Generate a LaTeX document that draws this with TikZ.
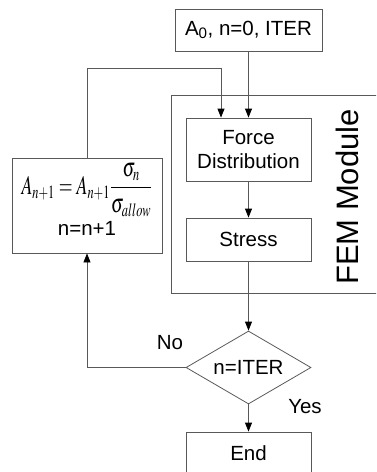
\documentclass[tikz,border=0pt]{standalone}
\usepackage{mathptmx}
\usepackage{graphicx}
\usepackage{fontspec}
\setmainfont{Liberation Sans}
\usepackage{tikz}
\usetikzlibrary{arrows.meta,shapes.geometric,positioning}
\definecolor{linegray}{gray}{0.35}
\tikzstyle{blk} = [rectangle, draw=linegray, line width=0.8pt, align=center, inner sep=0pt, font=\fontsize{20.5}{24}\selectfont]
\tikzstyle{dec} = [diamond, draw=linegray, line width=0.8pt, aspect=1.7, inner sep=0pt, minimum width=125pt, minimum height=73pt, font=\fontsize{20.5}{24}\selectfont]
\tikzstyle{lbl} = [font=\fontsize{20.5}{24}\selectfont, inner sep=0pt]
\tikzstyle{flow} = [draw=linegray, line width=0.8pt, -{Triangle[length=9pt,width=7pt,color=black]}]
\tikzstyle{frame} = [draw=linegray, line width=0.8pt]

\begin{document}
\begin{tikzpicture}[x=1pt,y=-1pt]
		\useasboundingbox (0,0) rectangle (376,472);
		\clip (0,0) rectangle (376,472);

		% FEM frame
		\draw[frame] (390,95) -- (171,95) -- (171,293) -- (390,293);
		\node[lbl, rotate=90, font=\fontsize{31}{36}\selectfont] (fem) at (347,197) {FEM Module};

		\node[blk, minimum width=147pt, minimum height=42pt] (start) at (248.5,30) {A\textsubscript{0}, n=0, ITER};
		\node[blk, minimum width=125pt, minimum height=63pt] (force) at (248.5,149.5) {Force\\Distribution};
		\node[blk, minimum width=125pt, minimum height=43pt] (stress) at (248.5,239.5) {Stress};
		\node[dec] (check) at (248.5,367.5) {n=ITER};
		\node[blk, minimum width=125pt, minimum height=42pt] (end) at (248.5,453) {End};
		\node[blk, minimum width=150pt, minimum height=95pt] (update) at (87,205.5) {};
		\node[lbl, font=\fontsize{17.28}{21}\selectfont] (formula) at (87,190)
			{\scalebox{1.03}[1.55]{$\displaystyle A_{n+1}=A_{n+1}\frac{\sigma_n}{\sigma_{allow}}$}};
		\node[lbl] (counter) at (87,228) {n=n+1};

		\node[lbl] (no) at (170,343) {No};
		\node[lbl] (yes) at (305,407) {Yes};

		\draw[flow] (start) -- (force);
		\draw[flow] (force) -- (stress);
		\draw[flow] (stress) -- (check);
		\draw[flow] (check) -- (end);
		\draw[flow] (check.west) -| (update.south);
		\draw[flow] (update.north) |- ([xshift=-27.5pt]force.north |- 0,68) -- ([xshift=-27.5pt]force.north);
	\end{tikzpicture}
\end{document}
